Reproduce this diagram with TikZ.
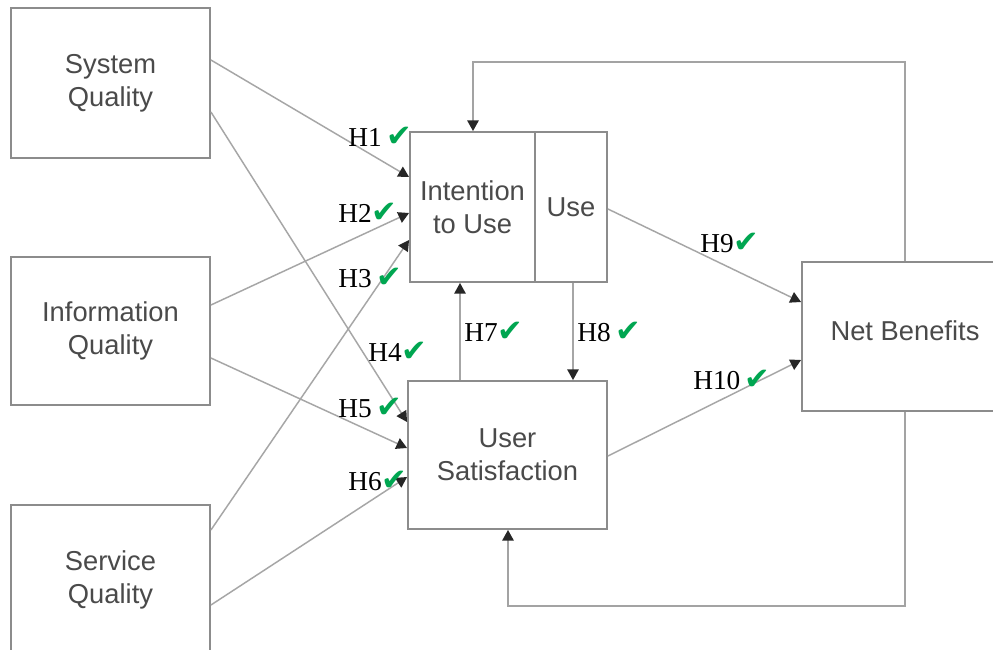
\documentclass[tikz,border=0pt]{standalone}
\usepackage{fontspec}
\setmainfont{Liberation Sans}
\newfontfamily\hfont{Liberation Serif}
\newfontfamily\checkfont{DejaVu Sans}
\usetikzlibrary{arrows.meta}
\definecolor{boxgray}{HTML}{8C8C8C}
\definecolor{linegray}{HTML}{A6A6A6}
\definecolor{txtgray}{HTML}{4A4A4A}
\definecolor{chkgreen}{RGB}{0,166,81}
\newcommand{\chk}{{\color{chkgreen}\checkfont\fontsize{23pt}{23pt}\selectfont ✔}}
\tikzset{
  box/.style={draw=boxgray, line width=1.4pt, fill=white, inner sep=0pt,
    text=txtgray, align=center, font=\fontsize{20.5pt}{25pt}\selectfont},
  conn/.style={draw=linegray, line width=1.1pt,
    -{Triangle[length=8pt,width=8.5pt,color=black!85]}},
  loopline/.style={draw=boxgray!80, line width=1.4pt,
    -{Triangle[length=8pt,width=8.5pt,color=black!85]}},
  hlab/.style={anchor=base west, inner sep=0pt, text=black,
    font=\hfont\fontsize{20.5pt}{20.5pt}\selectfont}
}
\begin{document}
\begin{tikzpicture}[x=0.75pt,y=-0.75pt]
\useasboundingbox (0,0) rectangle (993,650);
\clip (0,0) rectangle (993,650);
\fill[white] (0,0) rectangle (993,650);

% boxes
\node[box, minimum width=199*0.75pt, minimum height=150*0.75pt] (sq) at (110.5,83) {System\\Quality};
\node[box, minimum width=199*0.75pt, minimum height=148*0.75pt] (iq) at (110.5,331) {Information\\Quality};
\node[box, minimum width=199*0.75pt, minimum height=150*0.75pt] (svq) at (110.5,580) {Service\\Quality};
\node[box, minimum width=125*0.75pt, minimum height=150*0.75pt] (intent) at (472.5,207) {Intention\\to Use};
\node[box, minimum width=72*0.75pt, minimum height=150*0.75pt] (use) at (571,207) {Use};
\node[box, minimum width=199*0.75pt, minimum height=148*0.75pt] (us) at (507.5,455) {User\\Satisfaction};
\node[box, minimum width=206*0.75pt, minimum height=149*0.75pt, text depth=9pt] (nb) at (905,336.5) {Net Benefits};

% feedback loops
\coordinate (tl) at (473,62);
\coordinate (bl) at (508,606);
\draw[loopline] (nb.north) |- (tl) -- (intent.north -| tl);
\draw[loopline] (nb.south) |- (bl) -- (us.south -| bl);

% connectors from the quality boxes
\draw[conn] (sq.east |- 0,60) -- (intent.west |- 0,177);
\draw[conn] (sq.east |- 0,112) -- (us.west |- 0,422);
\draw[conn] (iq.east |- 0,305) -- (intent.west |- 0,213);
\draw[conn] (iq.east |- 0,358) -- (us.west |- 0,448);
\draw[conn] (svq.east |- 0,530) -- (intent.west |- 0,240);
\draw[conn] (svq.east |- 0,605) -- (us.west |- 0,477);

% between the central boxes
\draw[conn] (us.north -| 460,0) -- (intent.south -| 460,0);
\draw[conn] (use.south -| 573,0) -- (us.north -| 573,0);
\draw[conn] (use.east |- 0,209) -- (nb.west |- 0,302);
\draw[conn] (us.east |- 0,456) -- (nb.west |- 0,360);

% hypothesis labels
\node[hlab] (h1) at (348,146) {H1\,\chk};
\node[hlab] (h2) at (338,222) {H2\chk};
\node[hlab] (h3) at (338,287) {H3\,\chk};
\node[hlab] (h4) at (368,361) {H4\chk};
\node[hlab] (h5) at (338,417) {H5\,\chk};
\node[hlab] (h6) at (348,490) {H6\chk};
\node[hlab] (h7) at (464,341) {H7\chk};
\node[hlab] (h8) at (577,341) {H8\,\chk};
\node[hlab] (h9) at (700,252) {H9\chk};
\node[hlab] (h10) at (693,389) {H10\,\chk};
\end{tikzpicture}
\end{document}
